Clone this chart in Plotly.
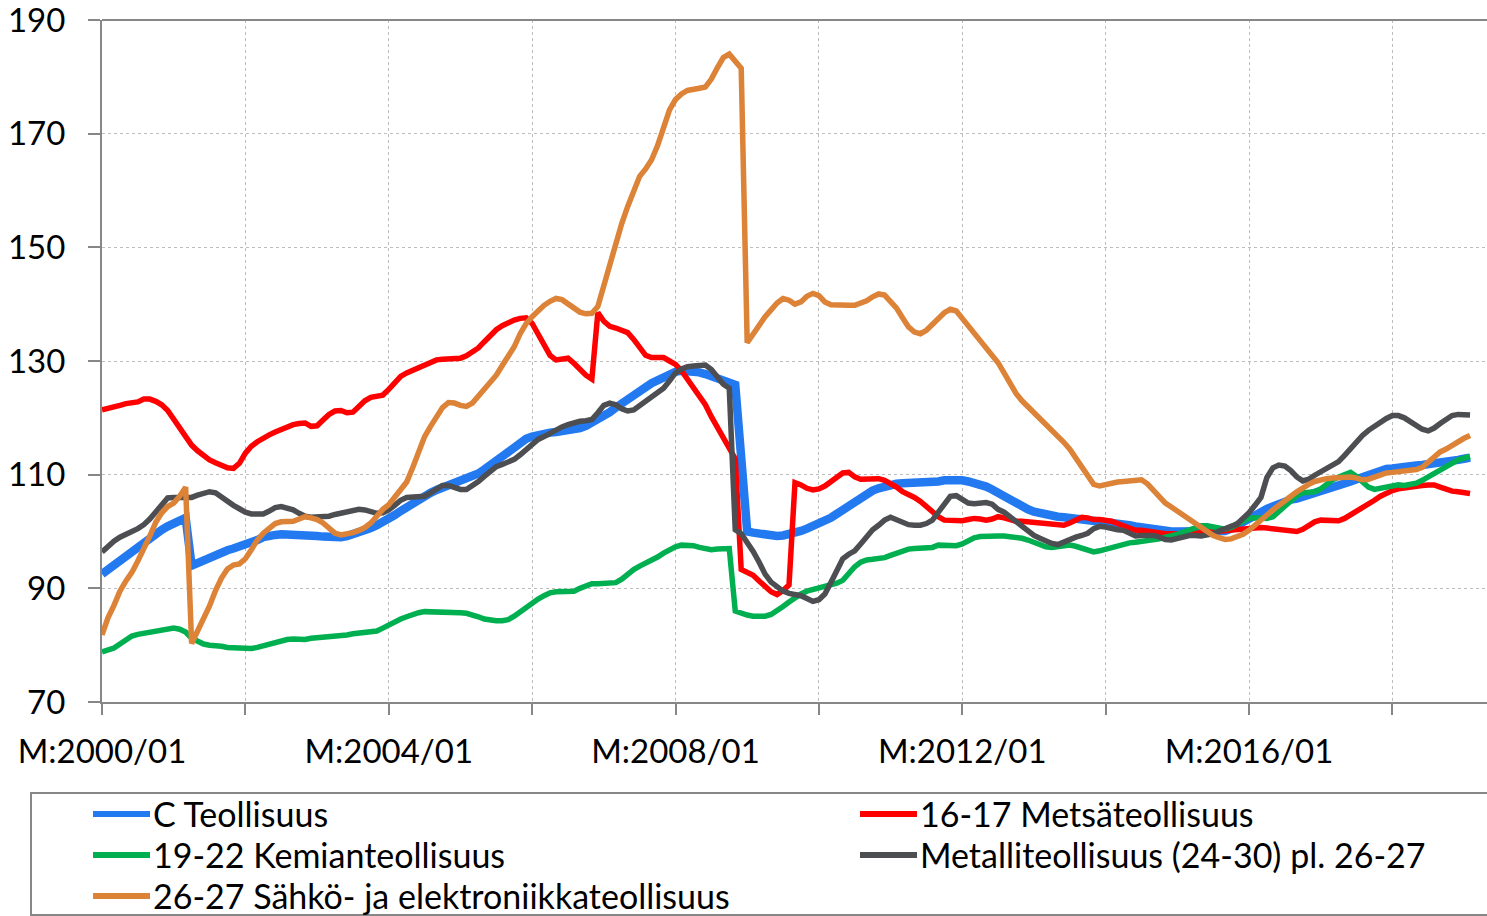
import plotly.graph_objects as go

# Monthly periods 2000/01 .. 2019/02
months = [f"M:{y}/{m:02d}" for y in range(2000, 2020) for m in range(1, 13)][:230]

# Volume index series, one row per year
c_teollisuus = [
    92.5, 93.3, 94.2, 95.0, 95.9, 96.7, 97.5, 98.3, 99.0, 99.7, 100.3, 100.9,
    101.4, 101.9, 102.4, 94.0, 94.5, 95.0, 95.5, 96.0, 96.4, 96.7, 97.0, 97.3,
    97.6, 98.0, 98.5, 99.0, 99.3, 99.4, 99.5, 99.5, 99.5, 99.5, 99.4, 99.3,
    99.2, 99.1, 99.0, 98.9, 99.0, 99.2, 99.5, 99.8, 100.2, 100.6, 101.1, 101.6,
    102.2, 102.9, 103.6, 104.3, 105.0, 105.7, 106.3, 106.8, 107.3, 107.7, 108.1, 108.4,
    108.7, 109.1, 109.6, 110.2, 110.9, 111.7, 112.5, 113.3, 114.1, 114.9, 115.6, 116.3,
    116.7, 117.0, 117.2, 117.4, 117.5, 117.6, 117.7, 117.9, 118.2, 118.6, 119.1, 119.7,
    120.3, 121.0, 121.8, 122.6, 123.3, 124.0, 124.7, 125.4, 126.1, 126.7, 127.3, 127.8,
    128.1, 128.3, 128.3, 128.2, 128.0, 127.7, 127.3, 126.9, 126.5, 126.1, 125.8, 113.0,
    100.0, 99.8, 99.6, 99.4, 99.3, 99.2, 99.3, 99.5, 99.8, 100.1, 100.5, 100.9,
    101.3, 101.8, 102.4, 103.1, 103.8, 104.6, 105.4, 106.1, 106.7, 107.2, 107.6, 108.0,
    108.2, 108.4, 108.5, 108.5, 108.5, 108.5, 108.5, 108.6, 108.8, 109.0, 109.1, 109.1,
    109.0, 108.8, 108.6, 108.3, 107.9, 107.4, 106.8, 106.1, 105.4, 104.8, 104.3, 103.9,
    103.5, 103.2, 102.9, 102.7, 102.6, 102.5, 102.4, 102.3, 102.2, 102.0, 101.9, 101.8,
    101.7, 101.6, 101.5, 101.3, 101.1, 100.9, 100.7, 100.5, 100.3, 100.1, 100.0, 100.0,
    100.0, 100.0, 100.0, 100.0, 100.0, 100.0, 100.0, 100.0, 100.1, 100.5, 101.0, 101.6,
    102.2, 102.8, 103.4, 104.0, 104.5, 104.9, 105.3, 105.6, 105.8, 106.1, 106.4, 106.7,
    107.0, 107.3, 107.6, 108.0, 108.4, 108.8, 109.2, 109.6, 110.0, 110.4, 110.7, 111.0,
    111.1, 111.3, 111.4, 111.5, 111.6, 111.7, 111.8, 112.0, 112.1, 112.3, 112.5, 112.6,
    112.8, 113.0,
]

metsateollisuus = [
    121.4, 121.6, 121.9, 122.2, 122.5, 122.6, 122.8, 123.3, 123.3, 122.9, 122.3, 121.3,
    119.8, 118.0, 116.4, 115.2, 114.2, 113.3, 112.6, 112.1, 111.6, 111.2, 111.1, 112.0,
    113.8, 115.0, 115.8, 116.5, 117.0, 117.5, 118.0, 118.4, 118.8, 119.0, 119.1, 118.5,
    118.6, 119.6, 120.6, 121.2, 121.3, 120.9, 121.0, 122.0, 123.0, 123.6, 123.8, 124.0,
    125.0, 126.3, 127.3, 127.9, 128.4, 128.7, 129.3, 129.9, 130.2, 130.3, 130.3, 130.4,
    130.5, 130.9, 131.5, 132.3, 133.4, 134.5, 135.5, 136.2, 136.8, 137.2, 137.5, 137.6,
    136.6, 134.8, 132.6, 131.0, 130.2, 130.4, 130.5, 129.6, 128.4, 127.5, 126.8, 138.5,
    137.0, 136.1, 135.8, 135.5, 135.0, 133.8, 132.3, 131.0, 130.6, 130.5, 130.6, 130.0,
    129.4, 128.3, 126.8, 125.6, 124.0, 122.3, 120.2, 118.3, 116.2, 114.4, 112.8, 93.3,
    92.9, 92.3, 91.3, 90.2, 89.4, 88.9, 89.6, 90.6, 108.6, 108.2, 107.6, 107.3,
    107.5, 108.0, 108.7, 109.5, 110.3, 110.4, 109.6, 109.2, 109.3, 109.4, 109.3, 109.0,
    108.5, 107.8, 107.0, 106.6, 106.0, 105.3, 104.4, 103.4, 102.6, 102.0, 101.9, 101.9,
    101.9, 102.1, 102.3, 102.2, 102.0, 102.2, 102.6, 102.4, 102.0, 101.8, 101.8, 101.7,
    101.7, 101.6, 101.5, 101.4, 101.2, 101.1, 101.5, 102.0, 102.5, 102.4, 102.1, 102.1,
    102.0, 101.8, 101.4, 101.0, 100.6, 100.2, 100.2, 100.0, 99.8, 99.7, 99.6, 99.6,
    99.5, 99.5, 99.6, 99.7, 99.8, 99.9, 100.0, 100.1, 100.2, 100.3, 100.4, 100.5,
    100.6, 100.7, 100.7, 100.6, 100.5, 100.3, 100.1, 100.0, 100.0, 100.4, 101.0, 101.7,
    102.0, 101.9, 101.8, 101.9, 102.3, 102.9, 103.5, 104.1, 104.8, 105.5, 106.2, 106.8,
    107.2, 107.5, 107.7, 107.9, 108.0, 108.1, 108.2, 108.2, 107.8, 107.4, 107.1, 107.0,
    106.9, 106.7,
]

kemianteollisuus = [
    78.8, 79.1, 79.5, 80.2, 81.0, 81.6, 81.9, 82.1, 82.2, 82.4, 82.6, 82.8,
    83.0, 82.8, 82.3, 81.2, 80.6, 80.2, 80.0, 80.0, 79.8, 79.6, 79.5, 79.4,
    79.4, 79.4, 79.6, 79.9, 80.2, 80.5, 80.8, 81.0, 81.1, 81.0, 81.0, 81.2,
    81.3, 81.4, 81.4, 81.4, 81.6, 81.8, 82.0, 82.1, 82.2, 82.3, 82.5, 83.0,
    83.6, 84.1, 84.6, 85.0, 85.4, 85.7, 85.9, 85.9, 85.9, 85.8, 85.8, 85.7,
    85.7, 85.6, 85.4, 85.0, 84.6, 84.4, 84.3, 84.3, 84.5, 85.1, 85.9, 86.7,
    87.4, 88.1, 88.7, 89.2, 89.4, 89.4, 89.4, 89.5, 90.0, 90.5, 90.8, 90.8,
    90.8, 90.8, 91.0, 91.6, 92.5, 93.3, 93.9, 94.4, 94.9, 95.5, 96.2, 96.8,
    97.3, 97.6, 97.6, 97.5, 97.2, 96.9, 96.8, 96.9, 97.0, 97.0, 86.0, 85.6,
    85.3, 85.1, 85.0, 85.1, 85.4, 86.0, 86.8, 87.6, 88.4, 89.0, 89.5, 89.8,
    90.0, 90.2, 90.5, 90.9, 91.4, 92.6, 93.8, 94.6, 95.0, 95.1, 95.2, 95.4,
    95.8, 96.2, 96.6, 96.9, 97.0, 97.0, 97.0, 97.2, 97.6, 97.5, 97.4, 97.5,
    97.8, 98.4, 98.9, 99.1, 99.2, 99.2, 99.2, 99.2, 99.1, 99.0, 98.8, 98.5,
    98.1, 97.7, 97.3, 97.2, 97.3, 97.5, 97.6, 97.4, 97.0, 96.6, 96.4, 96.6,
    96.9, 97.3, 97.6, 97.8, 98.0, 98.1, 98.2, 98.3, 98.5, 98.7, 99.0, 99.2,
    99.5, 99.9, 100.3, 100.7, 101.0, 101.0, 100.8, 100.6, 100.4, 100.7, 101.3, 101.9,
    102.3, 102.4, 102.3, 102.3, 102.6, 103.5, 104.5, 105.5, 106.3, 106.8, 107.0, 107.0,
    107.5, 108.4, 109.1, 109.6, 110.1, 110.4, 109.7, 108.6, 107.8, 107.4, 107.6, 108.0,
    108.2, 108.2, 108.1, 108.2, 108.5, 109.0, 109.6, 110.2, 110.9, 111.6, 112.2, 112.6,
    112.9, 113.2,
]

metalliteollisuus = [
    96.4, 97.4, 98.3, 99.0, 99.6, 100.0, 100.5, 101.2, 102.2, 103.4, 104.9, 105.9,
    106.0, 106.0, 105.9, 106.0, 106.4, 106.8, 107.0, 106.8, 106.0, 105.2, 104.6, 104.0,
    103.4, 103.1, 103.0, 103.1, 103.6, 104.2, 104.4, 104.2, 103.8, 103.2, 102.7, 102.5,
    102.5, 102.6, 102.7, 103.0, 103.2, 103.5, 103.8, 103.9, 103.8, 103.4, 103.2, 103.3,
    103.8, 104.6, 105.5, 106.0, 106.1, 106.1, 106.2, 106.8, 107.5, 108.1, 108.1, 107.7,
    107.4, 107.4, 108.0, 108.8, 109.7, 110.7, 111.4, 111.8, 112.2, 112.7, 113.5, 114.4,
    115.5, 116.2, 116.7, 117.3, 117.9, 118.4, 118.8, 119.2, 119.4, 119.5, 119.7, 120.9,
    122.2, 122.6, 122.3, 121.6, 121.2, 121.4, 122.2, 123.1, 123.8, 124.5, 125.2, 126.5,
    127.9, 128.6, 129.0, 129.1, 129.2, 129.3, 128.5, 127.2, 125.9, 125.2, 100.3, 99.6,
    98.2, 96.5, 94.6, 92.5, 91.1, 90.2, 89.5, 89.1, 88.9, 88.7, 88.2, 87.7,
    88.0, 89.0, 91.0, 93.2, 95.2, 96.0, 96.6, 97.8, 99.2, 100.3, 101.1, 102.0,
    102.5, 102.0, 101.5, 101.2, 101.1, 101.1, 101.4, 102.0, 103.4, 105.0, 106.2, 106.3,
    105.6, 105.0, 104.9, 105.0, 105.1, 104.8, 103.9, 103.4, 102.6, 101.7, 100.8, 99.9,
    99.3, 98.8, 98.3, 97.9, 97.7, 98.2, 98.7, 99.0, 99.3, 99.7, 100.5, 100.9,
    100.8, 100.5, 100.3, 100.2, 99.8, 99.2, 99.3, 99.4, 99.3, 99.0, 98.6, 98.5,
    98.8, 99.1, 99.3, 99.3, 99.2, 99.4, 99.6, 100.1, 100.6, 100.9, 101.3, 102.2,
    103.3, 104.6, 106.0, 109.5, 111.2, 111.7, 111.5, 110.7, 109.6, 108.9, 109.2, 109.9,
    110.5, 111.0, 111.6, 112.3, 113.4, 114.6, 115.8, 116.9, 117.8, 118.6, 119.3, 119.9,
    120.4, 120.4, 120.0, 119.3, 118.6, 118.0, 117.7, 118.2, 119.0, 119.8, 120.4, 120.6,
    120.5, 120.5,
]

sahko_elektroniikka = [
    81.8, 84.8, 87.0, 89.5, 91.3, 92.8, 94.8, 96.8, 99.2, 101.6, 103.3, 104.4,
    105.0, 106.2, 107.8, 80.3, 82.5, 84.6, 86.9, 89.6, 91.8, 93.4, 94.1, 94.3,
    95.2, 96.8, 98.5, 99.7, 100.6, 101.4, 101.7, 101.7, 101.8, 102.2, 102.6, 102.4,
    102.1, 101.5, 100.5, 99.7, 99.4, 99.5, 99.8, 100.2, 100.7, 101.5, 102.7, 103.9,
    104.7, 106.0, 107.2, 108.7, 111.2, 113.8, 116.7, 118.5, 120.2, 121.8, 122.7, 122.6,
    122.2, 122.0, 122.6, 123.8, 125.0, 126.0, 127.5, 129.2, 130.8, 132.5, 134.8, 136.6,
    137.8, 138.9, 139.8, 140.5, 141.0, 140.8, 140.0, 139.2, 138.6, 138.3, 138.4, 139.6,
    143.2, 147.3, 151.0, 154.2, 157.2, 160.0, 162.5, 163.8, 165.4, 167.9, 171.3, 174.2,
    176.0, 177.0, 177.6, 177.9, 178.0, 178.2, 179.6, 181.6, 183.4, 184.0, 182.9, 181.5,
    133.2, 134.8, 136.6, 137.8, 139.0, 140.2, 141.0, 140.7, 140.0, 140.4, 141.4, 141.9,
    141.5, 140.4, 139.9, 139.8, 139.9, 139.8, 139.8, 140.1, 140.6, 141.3, 141.8, 141.6,
    140.6, 139.3, 137.6, 136.0, 135.1, 134.8, 135.4, 136.4, 137.4, 138.5, 139.1, 138.8,
    137.5, 136.2, 134.9, 133.8, 132.6, 131.3, 129.7, 127.9, 126.0, 124.3, 123.0, 122.0,
    121.0, 120.0, 119.0, 118.0, 116.9, 115.7, 114.5, 113.0, 111.3, 109.7, 108.3, 108.0,
    108.3, 108.5, 108.7, 108.8, 108.9, 109.1, 109.1, 108.4, 107.2, 106.0, 105.0, 104.3,
    103.6, 102.9, 102.1, 101.4, 100.6, 99.9, 99.3, 98.9, 98.6, 98.7, 99.0, 99.5,
    100.2, 101.0, 101.9, 102.9, 103.8, 104.7, 105.5, 106.2, 107.0, 107.7, 108.3, 108.8,
    109.1, 109.3, 109.4, 109.5, 109.6, 109.6, 109.4, 109.1, 109.2, 109.6, 110.0, 110.3,
    110.4, 110.5, 110.6, 110.6, 110.9, 111.3, 112.2, 113.2, 114.0, 114.5, 115.2, 115.9,
    116.4, 116.9,
]

series_names = [
    "C Teollisuus",
    "16-17 Metsäteollisuus",
    "19-22 Kemianteollisuus",
    "Metalliteollisuus (24-30) pl. 26-27",
    "26-27 Sähkö- ja elektroniikkateollisuus",
]
series_values = [c_teollisuus, metsateollisuus, kemianteollisuus,
                 metalliteollisuus, sahko_elektroniikka]

y_ticks = [70, 90, 110, 130, 150, 170, 190]
tick_step = 24          # a tick every second year
label_step = 48         # a label every fourth year

colors = ["#2379F0", "#FF0000", "#00B050", "#4D4E52", "#DC8338"]
widths = [8.5, 5.5, 5.5, 5.5, 5.5]

FONT = "Lato"
AXIS_GRAY = "#878787"
GRID_GRAY = "#BDBDBD"

# Plot area in pixels
W, H = 1487, 916
L, R, T, B = 102, 1487, 20, 702
px_per_month = (1249 - 102) / 192
x_max = (R - L) / px_per_month
eps = 0.002

fig = go.Figure()
for name, vals, col, w in zip(series_names, series_values, colors, widths):
    fig.add_trace(go.Scatter(
        x=months[:len(vals)], y=vals, name=name, mode="lines",
        line=dict(color=col, width=w), showlegend=False,
    ))

tick_idx = list(range(0, len(months), tick_step))
tickvals = [months[i] for i in tick_idx]
ticktext = [months[i] if i % label_step == 0 else "" for i in tick_idx]

fig.update_layout(
    width=W, height=H,
    margin=dict(l=L, r=W - R, t=T, b=H - B),
    paper_bgcolor="white", plot_bgcolor="white",
    font=dict(family=FONT, color="black"),
    xaxis=dict(
        type="category", categoryorder="array", categoryarray=months,
        range=[0, x_max], tickvals=tickvals, ticktext=ticktext,
        showgrid=True, gridcolor=GRID_GRAY, gridwidth=1, griddash="3px,3px",
        showline=True, linecolor=AXIS_GRAY, linewidth=2,
        ticks="outside", ticklen=11, tickwidth=2, tickcolor=AXIS_GRAY,
        tickfont=dict(family=FONT, size=33, color="black"),
        ticklabelstandoff=8, ticklabeloverflow="allow", zeroline=False,
    ),
    xaxis2=dict(
        overlaying="x", anchor="y", side="bottom", type="linear",
        range=[0, x_max], tickvals=tick_idx,
        ticks="inside", ticklen=11, tickwidth=2, tickcolor=AXIS_GRAY,
        showticklabels=False, showgrid=False, showline=False, zeroline=False,
    ),
    yaxis=dict(
        range=[70 - eps, 190 + eps], tickvals=y_ticks,
        showgrid=True, gridcolor=GRID_GRAY, gridwidth=1, griddash="3px,3px",
        showline=True, linecolor=AXIS_GRAY, linewidth=2,
        ticks="outside", ticklen=12, tickwidth=2, tickcolor=AXIS_GRAY,
        tickfont=dict(family=FONT, size=33, color="black"),
        ticklabelstandoff=16, ticklabeloverflow="allow", zeroline=False,
    ),
)

# Top border of the plot area
fig.add_shape(type="line", xref="paper", yref="paper", x0=0, x1=1, y0=1, y1=1,
              line=dict(color=AXIS_GRAY, width=2))


def px_x(p):
    return (p - L) / (R - L)


def px_y(p):
    return (B - p) / (B - T)


# Legend box with two columns of entries
fig.add_shape(type="rect", xref="paper", yref="paper",
              x0=px_x(31), x1=px_x(1520), y0=px_y(915), y1=px_y(793),
              line=dict(color=AXIS_GRAY, width=2), fillcolor="rgba(0,0,0,0)")
legend_slots = [(93, 814), (860, 814), (93, 855), (860, 855), (93, 896)]
for (lx, ly), name, col in zip(legend_slots, series_names, colors):
    fig.add_shape(type="line", xref="paper", yref="paper",
                  x0=px_x(lx), x1=px_x(lx + 57), y0=px_y(ly), y1=px_y(ly),
                  line=dict(color=col, width=6))
    fig.add_annotation(xref="paper", yref="paper", x=px_x(lx + 58), y=px_y(ly - 1),
                       text=name, showarrow=False, xanchor="left", yanchor="middle",
                       font=dict(family=FONT, size=34, color="black"))

fig.write_html("out.html")
